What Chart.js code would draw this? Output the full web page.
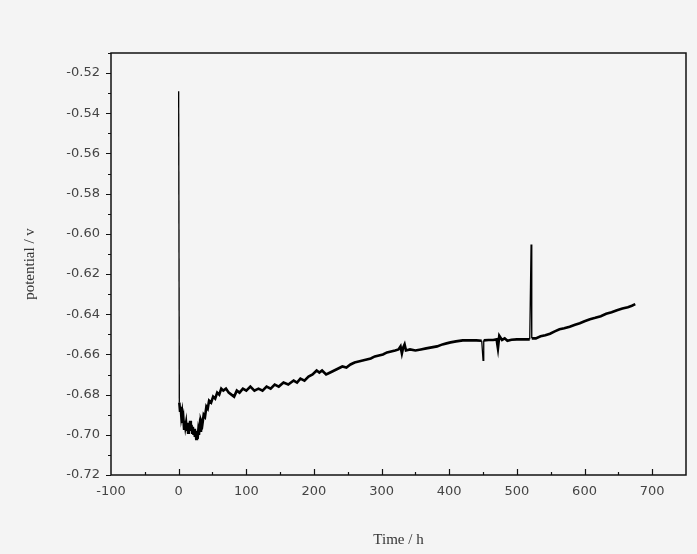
<!DOCTYPE html>
<html>
<head>
<meta charset="utf-8">
<script src="https://cdn.jsdelivr.net/npm/chart.js@4.4.0/dist/chart.umd.min.js"></script>
<style>
    html, body { margin: 0; padding: 0; background: #f4f4f4; }
    #wrap { width: 697px; height: 554px; }
</style>
</head>
<body>
<div id="wrap"><canvas id="potChart" width="697" height="554"></canvas></div>
<script>
// Data
const timeH = [
    0, 1, 2, 3, 4, 5, 6, 7, 8, 9, 10, 11, 12, 13, 14, 15, 16, 17, 18, 19,
    20, 21, 22, 23, 24, 25, 26, 27, 28, 29, 30, 31, 32, 33, 35, 37, 39, 41, 43, 45,
    48, 51, 54, 57, 60, 63, 66, 70, 74, 78, 82, 86, 90, 95, 100, 106, 112, 118, 124, 130,
    136, 142, 148, 155, 162, 170, 175, 180, 186, 192, 198, 204, 208, 212, 218, 224, 230, 236, 242, 248,
    254, 260, 266, 272, 278, 284, 290, 296, 302, 308, 314, 320, 325, 328, 330, 332, 334, 336, 342, 350,
    358, 366, 374, 382, 390, 396, 402, 410, 420, 430, 440, 448, 450, 451, 458, 465, 470, 472, 474, 478,
    482, 486, 492, 500, 508, 514, 519, 521, 522, 528, 535, 542, 549, 556, 563, 570, 578, 586, 593, 600,
    608, 616, 624, 632, 640, 648, 656, 664, 670, 675
];
const potentialV = [
    -0.529, -0.684, -0.688, -0.686, -0.691, -0.689, -0.694, -0.692, -0.697, -0.693, -0.696, -0.694, -0.698, -0.695, -0.699, -0.694, -0.697, -0.693, -0.698, -0.695,
    -0.699, -0.696, -0.700, -0.697, -0.701, -0.698, -0.702, -0.699, -0.702, -0.698, -0.700, -0.696, -0.698, -0.693, -0.695, -0.690, -0.691, -0.686, -0.687, -0.683,
    -0.684, -0.681, -0.682, -0.679, -0.680, -0.677, -0.678, -0.677, -0.679, -0.680, -0.681, -0.678, -0.679, -0.677, -0.678, -0.676, -0.678, -0.677, -0.678, -0.676,
    -0.677, -0.675, -0.676, -0.674, -0.675, -0.673, -0.674, -0.672, -0.673, -0.671, -0.670, -0.668, -0.669, -0.668, -0.670, -0.669, -0.668, -0.667, -0.666, -0.6665,
    -0.665, -0.664, -0.6635, -0.663, -0.6625, -0.662, -0.661, -0.6605, -0.660, -0.659, -0.6585, -0.658, -0.6575, -0.656, -0.6595, -0.6565, -0.655, -0.658, -0.6575, -0.658,
    -0.6575, -0.657, -0.6565, -0.656, -0.655, -0.6545, -0.654, -0.6535, -0.653, -0.653, -0.653, -0.6532, -0.663, -0.653, -0.6528, -0.6528, -0.6525, -0.657, -0.6507, -0.6528,
    -0.652, -0.6532, -0.6527, -0.6525, -0.6525, -0.6525, -0.6525, -0.6053, -0.652, -0.652, -0.651, -0.6505, -0.6497, -0.6485, -0.6475, -0.647, -0.6462, -0.6452, -0.6445, -0.6435,
    -0.6425, -0.6418, -0.641, -0.6398, -0.639, -0.638, -0.6372, -0.6365, -0.6358, -0.635
];
const xTicks = [-100, 0, 100, 200, 300, 400, 500, 600, 700];
const yTicks = [-0.72, -0.70, -0.68, -0.66, -0.64, -0.62, -0.60, -0.58, -0.56, -0.54, -0.52];

const points = timeH.map((t, i) => ({ x: t, y: potentialV[i] }));

// background, frame box and tick marks (x ticks point inward, y ticks outward)
const framePlugin = {
    id: 'frame',
    beforeDraw(chart) {
        const c = chart.ctx;
        c.save();
        c.fillStyle = '#f4f4f4';
        c.fillRect(0, 0, chart.width, chart.height);
        c.restore();
    },
    afterDraw(chart) {
        const c = chart.ctx;
        const a = chart.chartArea;
        const xs = chart.scales.x, ys = chart.scales.y;
        c.save();
        c.strokeStyle = '#111';
        c.lineWidth = 1.5;
        c.strokeRect(a.left, a.top, a.right - a.left, a.bottom - a.top);
        c.lineWidth = 1.2;
        c.beginPath();
        for (let v = -100; v <= 750; v += 50) {
            const px = Math.round(xs.getPixelForValue(v)) + 0.5;
            const len = v % 100 === 0 ? 6 : 3;
            if (px <= a.left + 1 || px >= a.right - 1) continue;
            c.moveTo(px, a.bottom);
            c.lineTo(px, a.bottom - len);
        }
        for (let k = 0; k <= 21; k++) {
            const v = -0.72 + k * 0.01;
            const py = Math.round(ys.getPixelForValue(v)) + 0.5;
            const len = k % 2 === 0 ? 5 : 3;
            c.moveTo(a.left, py);
            c.lineTo(a.left - len, py);
        }
        c.stroke();
        c.restore();
    }
};

// single-sample spikes are drawn thin, like in the original trace
const spikeWidth = ctx => {
    const dy = Math.abs(ctx.p1.parsed.y - ctx.p0.parsed.y);
    const dx = Math.abs(ctx.p1.parsed.x - ctx.p0.parsed.x);
    return (dy > 0.007 && dx <= 2) ? 1.3 : 2.6;
};

new Chart(document.getElementById('potChart'), {
    type: 'line',
    data: {
        datasets: [{
            data: points,
            borderColor: '#000',
            borderWidth: 2.6,
            borderJoinStyle: 'miter',
            pointRadius: 0,
            tension: 0,
            fill: false,
            segment: { borderWidth: spikeWidth }
        }]
    },
    options: {
        responsive: false,
        animation: false,
        layout: { padding: { left: 0, top: 53, right: 11, bottom: 0 } },
        plugins: { legend: { display: false }, tooltip: { enabled: false } },
        scales: {
            x: {
                type: 'linear',
                min: -100,
                max: 750,
                afterBuildTicks: s => { s.ticks = xTicks.map(v => ({ value: v })); },
                afterFit: s => { s.height = 79; },
                grid: { display: false, drawTicks: false },
                border: { display: false },
                ticks: {
                    padding: 9,
                    color: '#444',
                    font: { family: 'DejaVu Sans', size: 13 },
                    maxRotation: 0,
                    callback: v => String(v)
                },
                title: {
                    display: true,
                    text: 'Time / h',
                    color: '#333',
                    font: { family: 'Liberation Serif', size: 15 },
                    padding: { top: 0, bottom: 5 }
                }
            },
            y: {
                type: 'linear',
                min: -0.72,
                max: -0.51,
                afterBuildTicks: s => { s.ticks = yTicks.map(v => ({ value: v })); },
                afterFit: s => { s.width = 111; },
                grid: { display: false, drawTicks: false },
                border: { display: false },
                ticks: {
                    padding: 11,
                    color: '#444',
                    font: { family: 'DejaVu Sans', size: 13 },
                    callback: v => v.toFixed(2)
                },
                title: {
                    display: true,
                    text: 'potential / v',
                    color: '#333',
                    font: { family: 'Liberation Serif', size: 15 },
                    padding: { top: 21, bottom: 0 }
                }
            }
        }
    },
    plugins: [framePlugin]
});
</script>
</body>
</html>
